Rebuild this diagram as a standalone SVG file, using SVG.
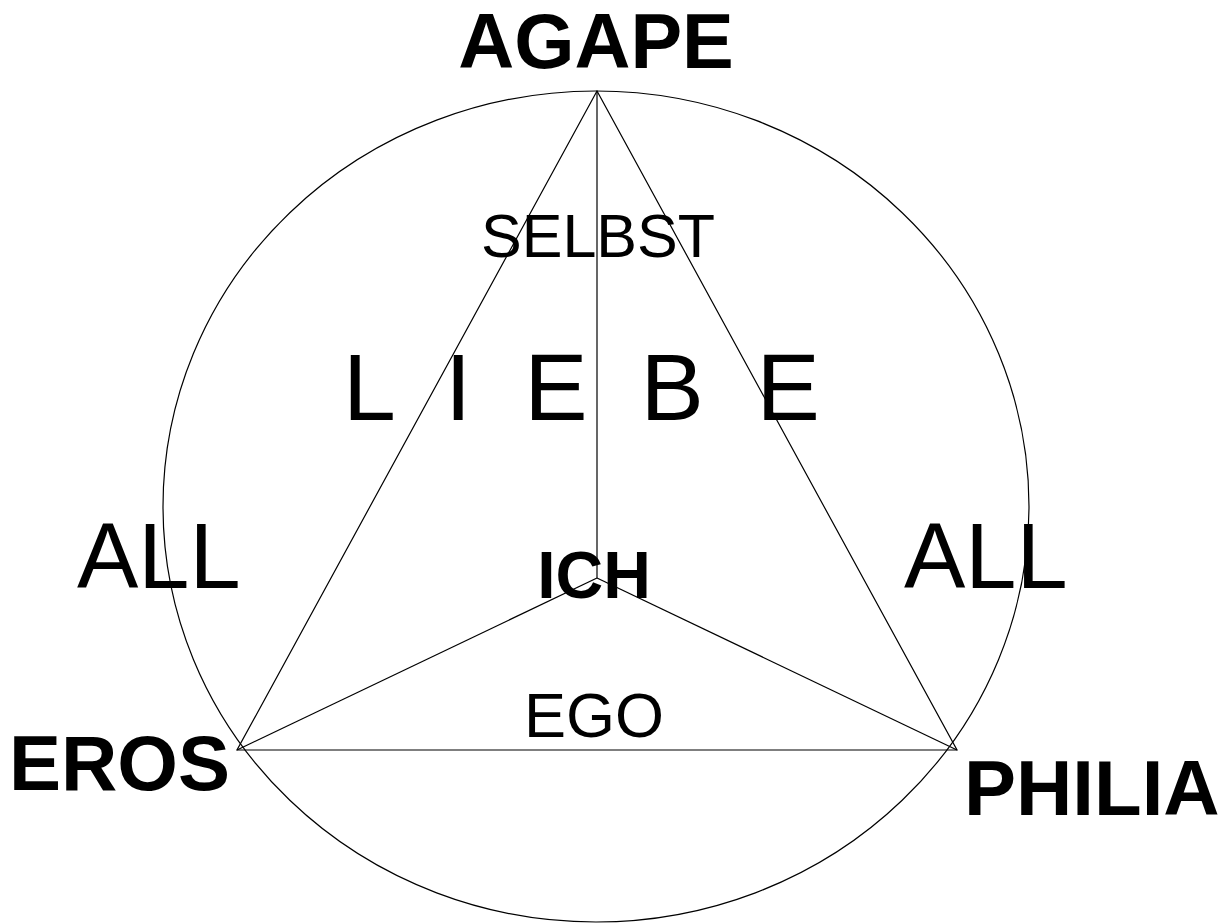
<svg xmlns="http://www.w3.org/2000/svg" width="1225" height="923" viewBox="0 0 1225 923">
<style>
.ln{stroke:#000;stroke-width:1.2;fill:none}
.b{font-family:"Liberation Sans",Arial,sans-serif;font-weight:bold;fill:#000}
.r{font-family:"Liberation Sans",Arial,sans-serif;fill:#000}
</style>
<rect width="1225" height="923" fill="#fff"/>
<ellipse id="circle" cx="596" cy="506.5" rx="433" ry="415.5" class="ln" stroke="#000"/>
<g id="connectors">
<polygon class="ln" points="597,91 237,750 957,750"/>
<line class="ln" x1="597" y1="91" x2="597" y2="578"/>
<line class="ln" x1="597" y1="578" x2="237" y2="750"/>
<line class="ln" x1="597" y1="578" x2="957" y2="750"/>
</g>
<g id="agape"><text class="b" x="596" y="68" font-size="77.5" text-anchor="middle">AGAPE</text></g>
<g id="eros"><text class="b" x="9" y="790" font-size="78">EROS</text></g>
<g id="philia"><text class="b" x="964" y="815" font-size="78">PHILIA</text></g>
<g id="ich"><text class="b" x="594" y="598" font-size="66" text-anchor="middle">ICH</text></g>
<g id="selbst"><text class="r" x="598" y="257" font-size="61" text-anchor="middle">SELBST</text></g>
<g id="liebe"><text class="r" x="343" y="420" font-size="95" xml:space="preserve" style="white-space:pre">L  I  E  B  E</text></g>
<g id="all-left"><text class="r" x="77" y="588" font-size="92">ALL</text></g>
<g id="all-right"><text class="r" x="904" y="588" font-size="92">ALL</text></g>
<g id="ego"><text class="r" x="594" y="737" font-size="63" text-anchor="middle">EGO</text></g>
</svg>
